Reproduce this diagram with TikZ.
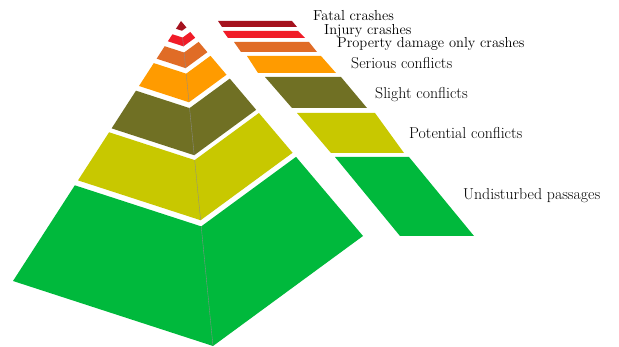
\documentclass[tikz,border=0pt]{standalone}
\usepackage{tikz}
\definecolor{fatalred}{RGB}{165, 18, 30}
\definecolor{injuryred}{RGB}{240, 28, 40}
\definecolor{damageorange}{RGB}{224, 108, 38}
\definecolor{seriousorange}{RGB}{255, 155, 0}
\definecolor{slightolive}{RGB}{112, 112, 36}
\definecolor{potentialyellow}{RGB}{200, 200, 0}
\definecolor{passagegreen}{RGB}{0, 185, 60}
\usetikzlibrary{
  calc,
  positioning,
}
% one layer of the pyramid, cut between t1 and t2 along the edges
\newcommand{\pyrlayer}[3]{%
  \fill[#3] ($(apex)!#1!(lft)$) -- ($(apex)!#1!(frt)$) -- ($(apex)!#1!(rgt)$)
    -- ($(apex)!#2!(rgt)$) -- ($(apex)!#2!(frt)$) -- ($(apex)!#2!(lft)$) -- cycle;
  \draw[frontedge] ($(apex)!#1!(frt)$) -- ($(apex)!#2!(frt)$);
}

\begin{document}
\begin{tikzpicture}[x=1pt,y=-1pt,
    lbl/.style={anchor=base west,inner sep=0pt,font=\fontsize{15.8}{17}\selectfont},
    toplbl/.style={lbl,font=\fontsize{14.5}{16}\selectfont},
    frontedge/.style={draw=black!45,line width=0.35pt}]

        \useasboundingbox (0,0) rectangle (619,347);

        \coordinate (apex) at (181,21);
        \coordinate (lft)  at (13,281);
        \coordinate (frt)  at (213,346);
        \coordinate (rgt)  at (363,236);

        % pyramid
        \fill[fatalred] (apex) -- ($(apex)!0.03!(lft)$) -- ($(apex)!0.03!(frt)$) -- ($(apex)!0.03!(rgt)$) -- cycle;
        \pyrlayer{0.051}{0.078}{injuryred}
        \pyrlayer{0.097}{0.145}{damageorange}
        \pyrlayer{0.162}{0.250}{seriousorange}
        \pyrlayer{0.268}{0.413}{slightolive}
        \pyrlayer{0.428}{0.613}{potentialyellow}
        \pyrlayer{0.632}{1}{passagegreen}

        % cut-off strips
        \fill[fatalred]        (218,21) -- (292,21) -- (297,27) -- (222,27) -- cycle;
        \fill[injuryred]       (223,31) -- (298,31) -- (305,38) -- (228,38) -- cycle;
        \fill[damageorange]    (234,42) -- (309,42) -- (317,52) -- (241,52) -- cycle;
        \fill[seriousorange]   (247,56) -- (321,56) -- (336,73) -- (258,73) -- cycle;
        \fill[slightolive]     (265,77) -- (341,77) -- (367,108) -- (292,108) -- cycle;
        \fill[potentialyellow] (297,113) -- (375,113) -- (404,153) -- (331,153) -- cycle;
        \fill[passagegreen]    (335,157) -- (409,157) -- (474,236) -- (400,236) -- cycle;

        % labels
        \node[toplbl] (fatal)  at (313,21)    {Fatal crashes};
        \node[toplbl] (injury) at (324,34.5)  {Injury crashes};
        \node[toplbl] (damage) at (337,48)    {Property damage only crashes};
        \node[lbl] (serious)   at (351,68.5)  {Serious conflicts};
        \node[lbl] (slight)    at (375,98.5)  {Slight conflicts};
        \node[lbl] (potential) at (409,138.5) {Potential conflicts};
        \node[lbl] (passages)  at (463,199.5) {Undisturbed passages};

    \end{tikzpicture}
\end{document}
